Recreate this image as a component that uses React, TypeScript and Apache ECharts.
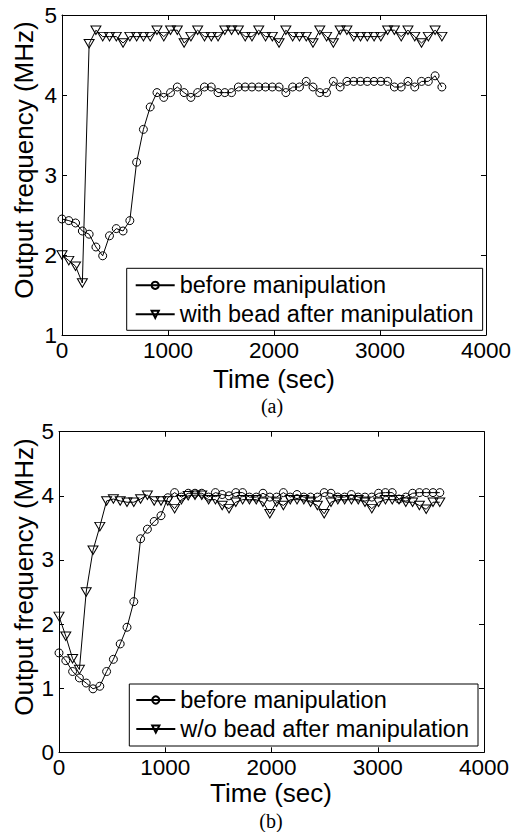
import React, { useEffect, useRef } from "react";
import * as echarts from "echarts";

// Sample times (sec)
const TIMES = [0, 64, 128, 192, 256, 320, 384, 448, 512, 576, 640, 704, 768, 832, 896, 960, 1024, 1088, 1152, 1216, 1280, 1344, 1408, 1472, 1536, 1600, 1664, 1728, 1792, 1856, 1920, 1984, 2048, 2112, 2176, 2240, 2304, 2368, 2432, 2496, 2560, 2624, 2688, 2752, 2816, 2880, 2944, 3008, 3072, 3136, 3200, 3264, 3328, 3392, 3456, 3520, 3584];

// Panel (a)
const A_BEFORE = [2.45, 2.43, 2.40, 2.30, 2.26, 2.10, 1.99, 2.24, 2.33, 2.30, 2.43, 3.16, 3.57, 3.85, 4.03, 3.97, 4.03, 4.10, 4.03, 3.97, 4.03, 4.10, 4.10, 4.03, 4.03, 4.03, 4.10, 4.10, 4.10, 4.10, 4.10, 4.10, 4.10, 4.03, 4.10, 4.10, 4.17, 4.10, 4.03, 4.03, 4.17, 4.10, 4.17, 4.17, 4.17, 4.17, 4.17, 4.17, 4.17, 4.10, 4.10, 4.17, 4.10, 4.17, 4.17, 4.24, 4.10];
const A_WITH = [2.00, 1.93, 1.86, 1.65, 4.64, 4.81, 4.73, 4.73, 4.73, 4.65, 4.73, 4.73, 4.73, 4.73, 4.81, 4.73, 4.81, 4.81, 4.65, 4.73, 4.81, 4.73, 4.73, 4.73, 4.81, 4.81, 4.81, 4.73, 4.73, 4.81, 4.73, 4.73, 4.65, 4.81, 4.73, 4.73, 4.73, 4.65, 4.81, 4.73, 4.65, 4.81, 4.81, 4.73, 4.73, 4.73, 4.73, 4.73, 4.81, 4.81, 4.73, 4.81, 4.73, 4.65, 4.73, 4.81, 4.73];

// Panel (b)
const B_BEFORE = [1.55, 1.43, 1.26, 1.16, 1.08, 0.99, 1.03, 1.26, 1.45, 1.69, 1.95, 2.35, 3.33, 3.48, 3.60, 3.69, 3.97, 4.05, 3.98, 4.04, 4.04, 4.04, 3.98, 4.05, 4.02, 4.00, 4.05, 4.05, 3.98, 3.98, 4.04, 3.98, 3.98, 4.05, 3.98, 4.02, 3.98, 3.98, 3.98, 4.05, 4.04, 3.98, 3.98, 4.02, 3.98, 3.98, 3.98, 4.04, 4.05, 4.05, 3.95, 3.98, 4.04, 4.05, 4.05, 4.05, 4.05];
const B_WO = [2.12, 1.81, 1.46, 1.29, 2.50, 3.15, 3.52, 3.92, 3.95, 3.92, 3.90, 3.90, 3.95, 4.01, 3.92, 3.92, 3.92, 3.80, 3.94, 4.00, 4.01, 4.01, 3.94, 3.94, 3.85, 3.80, 3.90, 3.94, 3.94, 3.94, 3.90, 3.72, 3.90, 3.85, 3.94, 3.94, 3.94, 3.90, 3.85, 3.72, 3.90, 3.94, 3.94, 3.94, 3.94, 3.90, 3.80, 3.90, 3.94, 3.94, 3.94, 3.90, 3.90, 3.85, 3.79, 3.90, 3.90];

const X_TICKS = { min: 0, max: 4000, interval: 1000 };
const Y_A = { min: 1, max: 5, interval: 1 };
const Y_B = { min: 0, max: 5, interval: 1 };

const NAME_BEFORE = "before manipulation";
const NAME_WITH = "with bead after manipulation";
const NAME_WO = "w/o bead after manipulation";
const X_TITLE = "Time (sec)";
const Y_TITLE = "Output frequency (MHz)";

const FONT = "'Liberation Sans', Arial, Helvetica, sans-serif";
const SERIF = "'Liberation Serif', 'Times New Roman', serif";

function zip(xs: number[], ys: number[]) {
  return ys.map((y, i) => [xs[i], y]);
}

function xAxis(gridIndex: number, position: string, showLabel: boolean) {
  return {
    type: "value",
    gridIndex,
    position,
    ...X_TICKS,
    axisLine: { show: true, onZero: false, lineStyle: { color: "#000", width: 1 } },
    axisTick: { show: true, inside: true, length: 5, lineStyle: { color: "#000", width: 1 } },
    axisLabel: {
      show: showLabel,
      color: "#000",
      fontSize: 22.5,
      fontFamily: FONT,
      margin: 4,
      formatter: (v: number) => String(v),
    },
    splitLine: { show: false },
  };
}

function yAxis(gridIndex: number, position: string, showLabel: boolean, range: any) {
  return {
    type: "value",
    gridIndex,
    position,
    ...range,
    axisLine: { show: true, onZero: false, lineStyle: { color: "#000", width: 1 } },
    axisTick: { show: true, inside: true, length: 5, lineStyle: { color: "#000", width: 1 } },
    axisLabel: {
      show: showLabel,
      color: "#000",
      fontSize: 22.5,
      fontFamily: FONT,
      margin: 5,
      formatter: (v: number) => String(v),
    },
    splitLine: { show: false },
  };
}

function series(name: string, axisIdx: number, data: number[][], tri: boolean) {
  return {
    type: "line",
    name,
    xAxisIndex: axisIdx,
    yAxisIndex: axisIdx,
    data,
    symbol: tri ? "triangle" : "circle",
    symbolRotate: tri ? 180 : 0,
    symbolSize: tri ? [10, 8.5] : 8,
    showAllSymbol: true,
    lineStyle: { color: "#000", width: 1 },
    itemStyle: { color: "none", borderColor: "#000", borderWidth: 1 },
    emphasis: { disabled: true },
    silent: true,
  };
}

function legend(left: number, top: number, names: string[], padding: number[]) {
  return {
    orient: "vertical",
    left,
    top,
    data: names,
    padding,
    itemGap: 3,
    itemWidth: 39,
    itemHeight: 9,
    backgroundColor: "#fff",
    borderColor: "#000",
    borderWidth: 1,
    borderRadius: 0,
    selectedMode: false,
    textStyle: { color: "#000", fontSize: 23.5, fontFamily: FONT, lineHeight: 26 },
  };
}

function label(text: string, x: number, y: number, size: number, family: string, rot = 0) {
  return {
    type: "text",
    x,
    y,
    rotation: rot,
    silent: true,
    style: { text, fill: "#000", fontSize: size, fontFamily: family, align: "center", verticalAlign: "middle" },
  };
}

export default function App() {
  const ref = useRef<HTMLDivElement>(null);
  useEffect(() => {
    if (!ref.current) return;
    const chart = echarts.init(ref.current, null, { renderer: "svg" });
    chart.setOption({
      animation: false,
      backgroundColor: "#fff",
      grid: [
        { left: 62, top: 15, width: 424.7, height: 320 },
        { left: 59, top: 431.7, width: 425, height: 320.6 },
      ],
      xAxis: [xAxis(0, "bottom", true), xAxis(0, "top", false), xAxis(1, "bottom", true), xAxis(1, "top", false)],
      yAxis: [yAxis(0, "left", true, Y_A), yAxis(0, "right", false, Y_A), yAxis(1, "left", true, Y_B), yAxis(1, "right", false, Y_B)],
      legend: [
        legend(126.7, 268.3, [NAME_BEFORE, NAME_WITH], [4, 9, 3, 8]),
        legend(129.3, 684, [NAME_BEFORE, NAME_WO], [3, 9, 4, 6]),
      ],
      series: [
        series(NAME_BEFORE, 0, zip(TIMES, A_BEFORE), false),
        series(NAME_WITH, 0, zip(TIMES, A_WITH), true),
        series(NAME_BEFORE, 2, zip(TIMES, B_BEFORE), false),
        series(NAME_WO, 2, zip(TIMES, B_WO), true),
      ],
      graphic: [
        label(Y_TITLE, 24, 160, 26, FONT, Math.PI / 2),
        label(X_TITLE, 274, 379, 26, FONT),
        label("(a)", 272, 406, 20, SERIF),
        label(Y_TITLE, 24, 577, 26, FONT, Math.PI / 2),
        label(X_TITLE, 271, 793, 26, FONT),
        label("(b)", 271, 821, 20, SERIF),
      ],
    });
    return () => chart.dispose();
  }, []);
  return (
    <div
      ref={ref}
      style={{ position: "absolute", left: 0, top: 0, width: 514, height: 832, background: "#fff" }}
    />
  );
}
